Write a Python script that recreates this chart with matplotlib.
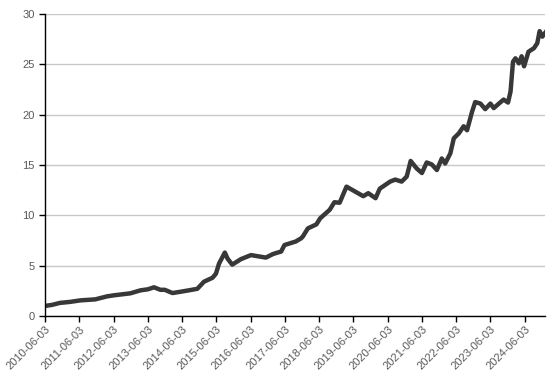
import numpy as np
import pandas as pd
import matplotlib
matplotlib.use("Agg")
import matplotlib.pyplot as plt
import matplotlib.dates as mdates

plt.rcParams['font.family'] = ['Liberation Sans', 'DejaVu Sans']

# values
dates = [
    "2010-06-03", "2010-08-15", "2010-11-09", "2011-02-25", "2011-06-14",
    "2011-11-20", "2012-03-26", "2012-06-03", "2012-11-28", "2013-03-18",
    "2013-06-03", "2013-08-08", "2013-10-15", "2013-12-01", "2014-02-21",
    "2014-05-19", "2014-08-15", "2014-11-13", "2015-01-22", "2015-04-24",
    "2015-05-30", "2015-07-02", "2015-09-02", "2015-10-01", "2015-11-20",
    "2016-02-21", "2016-06-07", "2016-11-13", "2017-01-26", "2017-03-18",
    "2017-04-24", "2017-05-30", "2017-09-27", "2017-11-24", "2017-12-12",
    "2018-02-03", "2018-05-05", "2018-06-14", "2018-09-24", "2018-11-13",
    "2019-01-08", "2019-03-22", "2019-05-27", "2019-09-17", "2019-11-09",
    "2020-01-26", "2020-03-11", "2020-06-29", "2020-08-22", "2020-10-30",
    "2020-12-23", "2021-02-03", "2021-04-09", "2021-06-03", "2021-07-24",
    "2021-09-17", "2021-11-09", "2022-01-01", "2022-02-06", "2022-04-02",
    "2022-05-09", "2022-07-02", "2022-08-22", "2022-09-27", "2022-11-20",
    "2022-12-23", "2023-02-17", "2023-04-09", "2023-06-03", "2023-07-09",
    "2023-09-02", "2023-10-22", "2023-12-08", "2024-01-04", "2024-01-30",
    "2024-02-25", "2024-04-02", "2024-05-01", "2024-05-27", "2024-07-13",
    "2024-09-09", "2024-10-15", "2024-11-09", "2024-12-08", "2025-01-08",
]
values = [
    1.00, 1.10, 1.30, 1.40, 1.55,
    1.65, 1.95, 2.05, 2.25, 2.55,
    2.65, 2.85, 2.60, 2.60, 2.28,
    2.41, 2.55, 2.70, 3.40, 3.80,
    4.20, 5.20, 6.30, 5.70, 5.10,
    5.65, 6.05, 5.80, 6.15, 6.30,
    6.40, 7.05, 7.40, 7.72, 7.90,
    8.70, 9.10, 9.70, 10.55, 11.30,
    11.25, 12.85, 12.50, 11.90, 12.20,
    11.70, 12.65, 13.35, 13.55, 13.35,
    13.85, 15.40, 14.65, 14.20, 15.25,
    15.05, 14.50, 15.65, 15.15, 16.15,
    17.65, 18.15, 18.85, 18.45, 20.30,
    21.25, 21.10, 20.55, 21.10, 20.65,
    21.10, 21.50, 21.20, 22.30, 25.25,
    25.60, 25.10, 25.80, 24.80, 26.25,
    26.60, 27.10, 28.30, 27.75, 28.15,
]
tick_dates = [f"{y}-06-03" for y in range(2010, 2025)]
y_ticks = [0, 5, 10, 15, 20, 25, 30]

x = pd.to_datetime(dates)
ticks = pd.to_datetime(tick_dates)

fig = plt.figure(figsize=(5.53, 3.76), dpi=100)
ax = fig.add_axes([0.0814, 0.1596, 0.9046, 0.8032])

ax.plot(x, values, color='#383838', linewidth=3.2, solid_joinstyle='round')

ax.set_xlim(x[0], x[-1])
ax.set_ylim(0, 30)
ax.set_yticks(y_ticks)
ax.set_xticks(ticks)
ax.set_xticklabels(tick_dates, rotation=45, ha='right', rotation_mode='anchor')

ax.yaxis.grid(True, color='#c8c8c8', linewidth=1)
ax.set_axisbelow(True)
for side in ['top', 'right']:
    ax.spines[side].set_visible(False)
for side in ['left', 'bottom']:
    ax.spines[side].set_color('black')
    ax.spines[side].set_linewidth(1)

ax.tick_params(axis='both', colors='black', labelcolor='#595959', labelsize=8,
               length=4, width=1, direction='out')
ax.tick_params(axis='x', pad=2)

fig.savefig('out.png', dpi=100)
